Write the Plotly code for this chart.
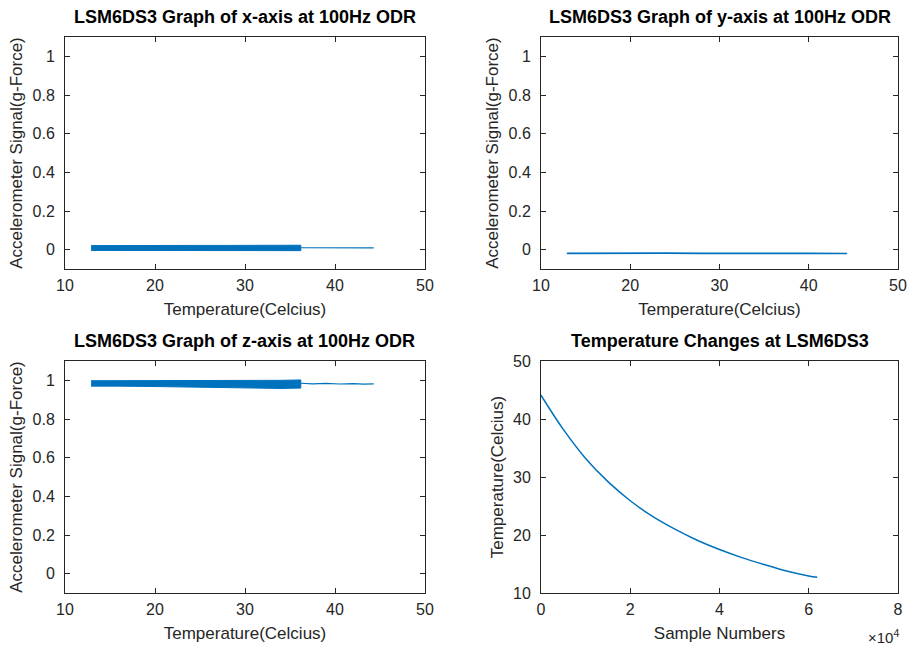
import plotly.graph_objects as go

# ---------------- data ----------------
temp_samples = [0, 5000, 10000, 15000, 20000, 25000, 30000, 35000, 40000, 45000, 50000, 55000, 60000, 61900]
temp_values = [44.1, 38.2, 33.2, 29.2, 25.9, 23.2, 21.0, 19.1, 17.5, 16.1, 14.9, 13.8, 12.95, 12.7]

x_band_temp = [12.9, 16, 20, 24, 28, 32, 36.2]
x_band_upper = [0.021, 0.022, 0.021, 0.022, 0.022, 0.023, 0.023]
x_band_lower = [-0.004, -0.004, -0.005, -0.004, -0.005, -0.005, -0.005]
x_tail_temp = [36.2, 38, 40, 42, 44.3]
x_tail_signal = [0.010, 0.009, 0.010, 0.009, 0.009]

y_temp = [12.9, 16, 20, 24, 28, 32, 36, 40, 44.3]
y_signal = [-0.019, -0.018, -0.019, -0.018, -0.019, -0.018, -0.019, -0.019, -0.020]

z_band_temp = [12.9, 16, 20, 24, 28, 32, 34, 36.2]
z_band_upper = [0.998, 0.998, 0.997, 0.998, 0.998, 0.999, 1.0, 1.002]
z_band_lower = [0.970, 0.970, 0.968, 0.965, 0.962, 0.960, 0.958, 0.960]
z_tail_temp = [36.2, 37.5, 39, 40.5, 42, 43.2, 44.3]
z_tail_signal = [0.985, 0.982, 0.984, 0.981, 0.983, 0.980, 0.982]

signal_ticks = [0, 0.2, 0.4, 0.6, 0.8, 1]
temp_ticks = [10, 20, 30, 40, 50]
sample_ticks = [0, 20000, 40000, 60000, 80000]
sample_tick_text = ["0", "2", "4", "6", "8"]
temp_level_ticks = [10, 20, 30, 40, 50]

titles = ["LSM6DS3 Graph of x-axis at 100Hz ODR",
          "LSM6DS3 Graph of y-axis at 100Hz ODR",
          "LSM6DS3 Graph of z-axis at 100Hz ODR",
          "Temperature Changes at LSM6DS3"]

# ---------------- styling ----------------
BLUE = "#0072BD"
AX = "#262626"
FONT = "Liberation Sans, Arial, Helvetica, sans-serif"
W, H = 912, 651

# pixel boxes of the four axes (left, right, top, bottom)
boxes = [(65, 425, 37, 269), (541, 898, 37, 269), (65, 425, 361, 593), (541, 898, 361, 593)]

fig = go.Figure()

def band(xs, up, lo, xa, ya):
    fig.add_trace(go.Scatter(
        x=xs + xs[::-1], y=up + lo[::-1], fill="toself", fillcolor=BLUE,
        mode="lines", line=dict(color=BLUE, width=1), xaxis=xa, yaxis=ya,
        hoverinfo="skip", showlegend=False))

def line(xs, ys, xa, ya, w=1.2, shape="linear"):
    ln = dict(color=BLUE, width=w, shape=shape)
    if shape == "spline":
        ln["smoothing"] = 1.0
    fig.add_trace(go.Scatter(x=xs, y=ys, mode="lines", line=ln,
                             xaxis=xa, yaxis=ya, showlegend=False))

band(x_band_temp, x_band_upper, x_band_lower, "x", "y")
line(x_tail_temp, x_tail_signal, "x", "y")
line(y_temp, y_signal, "x2", "y2", w=1.6)
band(z_band_temp, z_band_upper, z_band_lower, "x3", "y3")
line(z_tail_temp, z_tail_signal, "x3", "y3")
line(temp_samples, temp_values, "x4", "y4", w=1.5, shape="spline")

TICK_SIZE = 16
LABEL_SIZE = 17
axis_common = dict(showline=True, linecolor=AX, linewidth=1, mirror="allticks", ticks="inside",
                   ticklen=5, tickcolor=AX, showgrid=False, zeroline=False, automargin=False,
                   tickfont=dict(family=FONT, size=TICK_SIZE, color=AX), fixedrange=True)

layout = dict(width=W, height=H, margin=dict(l=0, r=0, t=0, b=0),
              paper_bgcolor="white", plot_bgcolor="white", showlegend=False,
              font=dict(family=FONT, color=AX))

for i, (l, r, t, b) in enumerate(boxes):
    n = "" if i == 0 else str(i + 1)
    xd = [l / W, r / W]
    yd = [1 - b / H, 1 - t / H]
    xt = "Temperature(Celcius)" if i < 3 else "Sample Numbers"
    yt = "Accelerometer Signal(g-Force)" if i < 3 else "Temperature(Celcius)"
    xa = dict(axis_common, domain=xd, anchor="y" + n,
              title=dict(text=xt, standoff=9, font=dict(family=FONT, size=LABEL_SIZE, color=AX)),
              ticklabelstandoff=2)
    ya = dict(axis_common, domain=yd, anchor="x" + n,
              title=dict(text=yt, standoff=5, font=dict(family=FONT, size=LABEL_SIZE, color=AX)),
              ticklabelstandoff=6)
    if i < 3:
        xa.update(range=[10, 50], tickvals=temp_ticks)
        ya.update(range=[-0.1, 1.1], tickvals=signal_ticks)
    else:
        xa.update(range=[0, 80000], tickvals=sample_ticks, ticktext=sample_tick_text)
        ya.update(range=[10, 50], tickvals=temp_level_ticks)
    layout["xaxis" + n] = xa
    layout["yaxis" + n] = ya

annotations = []
for i, (l, r, t, b) in enumerate(boxes):
    annotations.append(dict(text="<b>" + titles[i] + "</b>", x=(l + r) / 2 / W, y=1 - (t - 8) / H,
                            xref="paper", yref="paper", xanchor="center", yanchor="bottom",
                            showarrow=False, font=dict(family=FONT, size=18, color="black")))
annotations.append(dict(text="×10<sup>4</sup>", x=901 / W, y=1 - 648 / H, xref="paper", yref="paper",
                        xanchor="right", yanchor="bottom", showarrow=False,
                        font=dict(family=FONT, size=15, color=AX)))
layout["annotations"] = annotations

fig.update_layout(**layout)
fig.write_html("out.html", config={"displayModeBar": False},
               post_script="document.body.style.margin='0';document.body.style.overflow='hidden';")
